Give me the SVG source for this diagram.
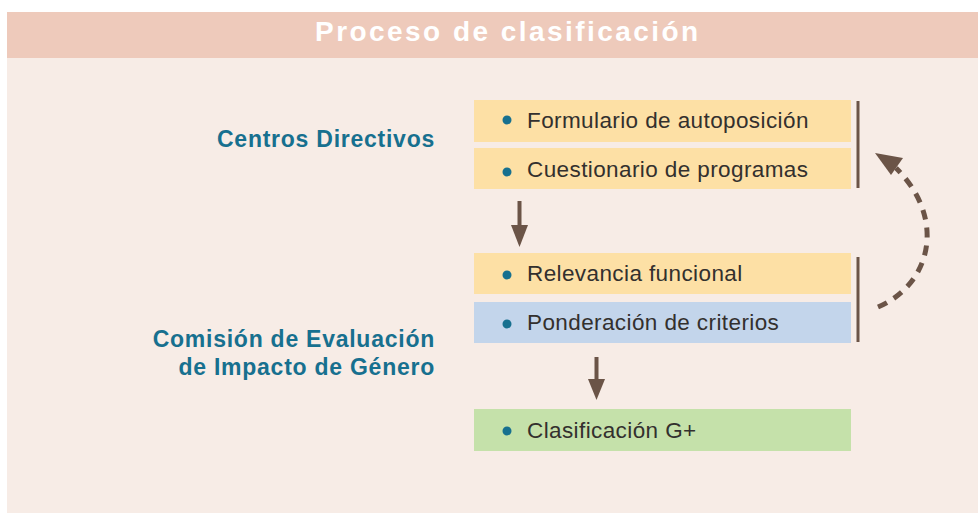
<svg xmlns="http://www.w3.org/2000/svg" width="978" height="513" viewBox="0 0 978 513">
<style>
.lbl{font-family:"Liberation Sans",Arial,sans-serif;font-weight:bold;font-size:23px;fill:#17708f;letter-spacing:0.75px;text-anchor:end}
.item{font-family:"Liberation Sans",Arial,sans-serif;font-size:22.5px;fill:#33302e;letter-spacing:0.4px}
.dot{fill:#17708f}
.yel{fill:#fde0a5}
.blu{fill:#c3d5eb}
.grn{fill:#c5e1aa}
.bar{stroke:#6b5447;stroke-width:3;fill:none}
.shaft{stroke:#6b5447;stroke-width:4;fill:none}
.head{fill:#6b5447}
</style>
<rect x="0" y="0" width="978" height="513" fill="#ffffff"/>
<rect x="7" y="58" width="971" height="455" fill="#f7ece6"/>
<g id="header">
<rect x="7" y="12" width="971" height="46" fill="#eecabb"/>
<text x="315" y="41" font-family="'Liberation Sans',Arial,sans-serif" font-weight="bold" font-size="28" fill="#ffffff" letter-spacing="2.45">Proceso de clasificación</text>
</g>
<g id="label-centros">
<text class="lbl" x="435" y="147">Centros Directivos</text>
</g>
<g id="label-comision">
<text class="lbl" x="435" y="347">Comisión de Evaluación</text>
<text class="lbl" x="435" y="375">de Impacto de Género</text>
</g>
<g id="node-formulario">
<rect class="yel" x="474" y="100" width="377" height="42"/>
<circle class="dot" cx="507" cy="120" r="4.5"/>
<text class="item" x="527" y="128">Formulario de autoposición</text>
</g>
<g id="node-cuestionario">
<rect class="yel" x="474" y="148" width="377" height="41"/>
<circle class="dot" cx="507" cy="172" r="4.5"/>
<text class="item" x="527" y="177">Cuestionario de programas</text>
</g>
<g id="node-relevancia">
<rect class="yel" x="474" y="253" width="377" height="41"/>
<circle class="dot" cx="507" cy="275" r="4.5"/>
<text class="item" x="527" y="281">Relevancia funcional</text>
</g>
<g id="node-ponderacion">
<rect class="blu" x="474" y="302" width="377" height="41"/>
<circle class="dot" cx="507" cy="324" r="4.5"/>
<text class="item" x="527" y="330">Ponderación de criterios</text>
</g>
<g id="node-clasificacion">
<rect class="grn" x="474" y="409" width="377" height="42"/>
<circle class="dot" cx="507" cy="431" r="4.5"/>
<text class="item" x="527" y="438">Clasificación G+</text>
</g>
<g id="connectors">
<line class="bar" x1="858" y1="101" x2="858" y2="188"/>
<line class="bar" x1="858" y1="257" x2="858" y2="342"/>
<line class="shaft" x1="519.5" y1="201" x2="519.5" y2="227"/>
<polygon class="head" points="511,225 528,225 519.5,247"/>
<line class="shaft" x1="596.5" y1="357" x2="596.5" y2="381"/>
<polygon class="head" points="588,379 605,379 596.5,400"/>
<path d="M878,307 C930,285 948,220 896,168" stroke="#6b5447" stroke-width="5" fill="none" stroke-dasharray="10,8"/>
<polygon class="head" points="875,153 903,158 891,175"/>
</g>
</svg>
